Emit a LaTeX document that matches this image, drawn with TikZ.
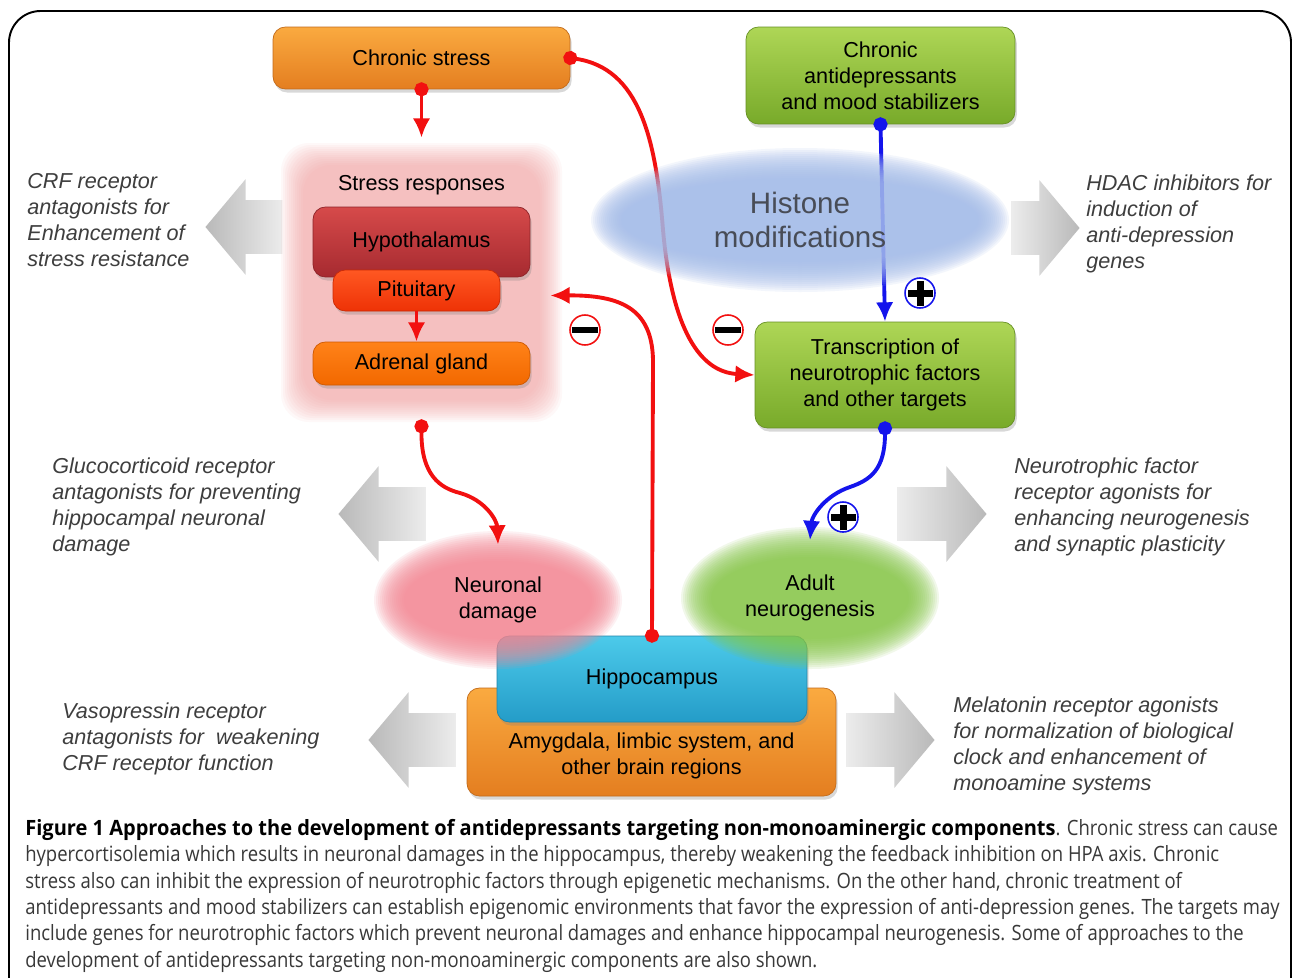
\documentclass[tikz,border=0pt]{standalone}
\usepackage{fontspec}
\setmainfont{Liberation Sans}
\newfontfamily\capfont{Open Sans}[FakeStretch=0.876, BoldFeatures={FakeStretch=0.95}]
\usepackage{tikz}
\definecolor{csorange}{RGB}{250,170,64}
\definecolor{csorangedk}{RGB}{228,126,32}
\definecolor{hypored}{RGB}{214,74,74}
\definecolor{hyporeddk}{RGB}{166,42,48}
\definecolor{pitred}{RGB}{255,88,34}
\definecolor{pitreddk}{RGB}{238,50,6}
\definecolor{adrorange}{RGB}{255,130,24}
\definecolor{adrorangedk}{RGB}{242,104,0}
\definecolor{tfgreen}{RGB}{174,214,86}
\definecolor{tfgreendk}{RGB}{120,170,42}
\definecolor{hipblue}{RGB}{76,202,234}
\definecolor{hipbluedk}{RGB}{36,156,200}
\definecolor{histblue}{RGB}{164,188,234}
\definecolor{damagered}{RGB}{244,134,146}
\definecolor{neurogreen}{RGB}{135,198,70}
\definecolor{glowpink}{RGB}{245,150,150}
\definecolor{notegray}{RGB}{62,62,62}
\definecolor{inhred}{RGB}{242,16,16}
\definecolor{actblue}{RGB}{20,20,236}
\usetikzlibrary{shadows,arrows.meta,positioning,shapes.geometric,shapes.arrows,calc}
\newcommand\boxfont{\fontsize{12.3}{14.7}\selectfont}

\tikzset{
  brainbox/.style={rounded corners=7pt, top color=#1, bottom color=#1dk,
    draw=#1dk!85!black, line width=0.4pt, align=center, font=\boxfont,
    inner sep=2pt, drop shadow={opacity=0.3, shadow xshift=1pt, shadow yshift=-2pt}},
  fuzzy/.style={ellipse, inner sep=0pt, align=center, font=\boxfont},
  redflow/.style={draw=inhred, line width=2.2pt, -{Latex[length=11pt,width=10pt]}},
  blueflow/.style={draw=actblue, line width=2.2pt, -{Latex[length=11pt,width=10pt]}},
  dotstart/.style={{Circle[length=8pt]}-{Latex[length=11pt,width=10pt]}, shorten <=-4pt},
  bigarrow/.style={single arrow, inner xsep=0pt, inner ysep=0.53cm,
    single arrow head extend=0.42cm, single arrow tip angle=100, anchor=tip},
  pointleft/.style={bigarrow, shape border rotate=180, left color=gray!55, right color=gray!15},
  pointright/.style={bigarrow, left color=gray!15, right color=gray!55},
  drugnote/.style={anchor=west, align=left, inner sep=0pt, text=notegray,
    font=\itshape\fontsize{12.3}{14.8}\selectfont},
  minussign/.style={circle, draw=inhred, line width=0.9pt, fill=white, minimum size=0.6cm,
    inner sep=0pt, path picture={\fill[black]
      ([xshift=-0.26cm,yshift=-0.055cm]path picture bounding box.center) rectangle
      ([xshift=0.26cm,yshift=0.055cm]path picture bounding box.center);}},
  plussign/.style={circle, draw=actblue, line width=0.9pt, fill=white, minimum size=0.6cm,
    inner sep=0pt, path picture={\fill[black]
      ([xshift=-0.25cm,yshift=-0.07cm]path picture bounding box.center) rectangle
      ([xshift=0.25cm,yshift=0.07cm]path picture bounding box.center);
      \fill[black]
      ([xshift=-0.07cm,yshift=-0.25cm]path picture bounding box.center) rectangle
      ([xshift=0.07cm,yshift=0.25cm]path picture bounding box.center);}}
}

\begin{document}
\begin{tikzpicture}[x=0.02cm, y=-0.02cm]
  \useasboundingbox (0,0) rectangle (1293,977);
  \fill[white] (0,0) rectangle (1293,977);

  % figure frame
  \draw[line width=1.1pt, rounded corners=18pt] (9,1010) -- (9,11) -- (1291,11) -- (1291,1010);

  % grey arrows to the drug approaches
  \node[pointleft, minimum height=1.54cm] (crfarrow) at (205,227) {};
  \node[pointright, minimum height=1.36cm] (hdacarrow) at (1080,228) {};
  \node[pointleft, minimum height=1.74cm] (gcarrow) at (338,514) {};
  \node[pointright, minimum height=1.78cm] (ntarrow) at (987,514) {};
  \node[pointleft, minimum height=1.74cm] (vparrow) at (368,740) {};
  \node[pointright, minimum height=1.76cm] (mtarrow) at (935,740) {};

  \node[drugnote] (crfnote) at (27,220) {CRF receptor\\antagonists for\\Enhancement of\\stress resistance};
  \node[drugnote] (hdacnote) at (1086,224) {HDAC inhibitors for\\induction of\\anti-depression\\genes};
  \node[drugnote] (gcnote) at (52,507) {Glucocorticoid receptor\\antagonists for preventing\\hippocampal neuronal\\damage};
  \node[drugnote] (ntnote) at (1014,507) {Neurotrophic factor\\receptor agonists for\\enhancing neurogenesis\\and synaptic plasticity};
  \node[drugnote] (vpnote) at (62,739) {Vasopressin receptor\\antagonists for~ weakening\\CRF receptor function};
  \node[drugnote] (mtnote) at (953,746) {Melatonin receptor agonists\\for normalization of biological\\clock and enhancement of\\monoamine systems};

  % stress responses (HPA axis)
  \foreach \k in {0,...,11}
    \fill[glowpink, opacity=0.065, rounded corners=16pt]
      ({281+2*\k},{143+2*\k}) rectangle ({562-2*\k},{422-2*\k});
  \node[minimum width=5.14cm, minimum height=5.1cm, inner sep=0pt,
        label={[anchor=north, font=\boxfont, yshift=-0.3cm]north:Stress responses}] (stressresp) at (421.5,282.5) {};

  \node[brainbox=csorange, minimum width=5.94cm, minimum height=1.24cm] (stress) at (421.5,58) {Chronic stress};
  \node[brainbox=tfgreen, minimum width=5.38cm, minimum height=1.94cm] (antidep) at (880.5,75.5) {Chronic\\antidepressants\\and mood stabilizers};
  \node[brainbox=hypored, minimum width=4.34cm, minimum height=1.4cm] (hypo) at (421.5,242) {Hypothalamus};
  \node[brainbox=pitred, minimum width=3.34cm, minimum height=0.82cm] (pit) at (416.5,290.5) {Pituitary};
  \node[brainbox=adrorange, minimum width=4.34cm, minimum height=0.86cm] (adrenal) at (421.5,363.5) {Adrenal gland};
  \node[brainbox=tfgreen, minimum width=5.2cm, minimum height=2.12cm] (transc) at (885,375) {Transcription of\\neurotrophic factors\\and other targets};

  % brain regions
  \node[brainbox=csorange, minimum width=7.38cm, minimum height=2.16cm,
        label={[font=\boxfont, align=center, yshift=-0.28cm]center:Amygdala, limbic system, and\\other brain regions}] (amyg) at (651.5,742) {};
  \node[brainbox=hipblue, minimum width=6.2cm, minimum height=1.72cm] (hippo) at (652,679) {Hippocampus};

  \foreach \k in {0,...,15}
    \fill[damagered, opacity=0.11] (498,600) ellipse [x radius={(124-2*\k)*0.02cm}, y radius={(69-2*\k)*0.02cm}];
  \node[fuzzy, minimum width=4.4cm, minimum height=2.2cm] (neuronal) at (498,600) {Neuronal\\damage};
  \foreach \k in {0,...,15}
    \fill[neurogreen, opacity=0.11] (810,598) ellipse [x radius={(129-2*\k)*0.02cm}, y radius={(71-2*\k)*0.02cm}];
  \node[fuzzy, minimum width=4.64cm, minimum height=2.3cm] (adult) at (810,598) {Adult\\neurogenesis};

  % connectors
  \draw[redflow, dotstart, shorten >=0.34cm] (stress.south) -- (stressresp.north);
  \draw[redflow] (pit.south) -- (pit.south |- adrenal.north);
  \draw[redflow, dotstart] ($(stressresp.south)+(0,16)$) .. controls (421,475) and (440,488) .. (460,493)
    .. controls (485,500) and (497,520) .. (neuronal.north);
  \draw[redflow, dotstart] (hippo.north) -- (653,360) .. controls (652,308) and (620,295) .. ($(stressresp.east)+(0,13)$);
  \draw[redflow, dotstart] (stress.east) .. controls (640,68) and (656,140) .. (663,230)
    .. controls (672,330) and (700,372) .. (transc.west);
  \draw[blueflow, dotstart] (antidep.south) -- (transc.north);
  \draw[blueflow, dotstart] (transc.south) .. controls (885,470) and (870,480) .. (850,487)
    .. controls (826,495) and (812,515) .. (adult.north);

  % epigenetic layer
  \foreach \k in {0,...,15}
    \fill[histblue, opacity=0.12] (800,220) ellipse [x radius={(209-2*\k)*0.02cm}, y radius={(72-2*\k)*0.02cm}];
  \node[fuzzy, minimum width=7.8cm, minimum height=2.32cm, text={rgb,255:red,72;green,76;blue,86},
        font=\fontsize{16.8}{19.3}\selectfont] (histone) at (800,220) {Histone\\modifications};

  % signs
  \node[minussign] (inhhpa) at (585,330) {};
  \node[minussign] (inhtf) at (728,330) {};
  \node[plussign] (acttf) at (920,293) {};
  \node[plussign] (actneuro) at (843,517) {};

  % caption
  \node[anchor=north west, align=left, inner sep=0pt, text=black!78,
        font=\capfont\fontsize{12}{15}\selectfont] (caption) at (25,819)
    {\textcolor{black}{\textbf{Figure 1 Approaches to the development of antidepressants targeting non-monoaminergic components}}. Chronic stress can cause\\
     hypercortisolemia which results in neuronal damages in the hippocampus, thereby weakening the feedback inhibition on HPA axis. Chronic\\
     stress also can inhibit the expression of neurotrophic factors through epigenetic mechanisms. On the other hand, chronic treatment of\\
     antidepressants and mood stabilizers can establish epigenomic environments that favor the expression of anti-depression genes. The targets may\\
     include genes for neurotrophic factors which prevent neuronal damages and enhance hippocampal neurogenesis. Some of approaches to the\\
     development of antidepressants targeting non-monoaminergic components are also shown.};
\end{tikzpicture}
\end{document}
